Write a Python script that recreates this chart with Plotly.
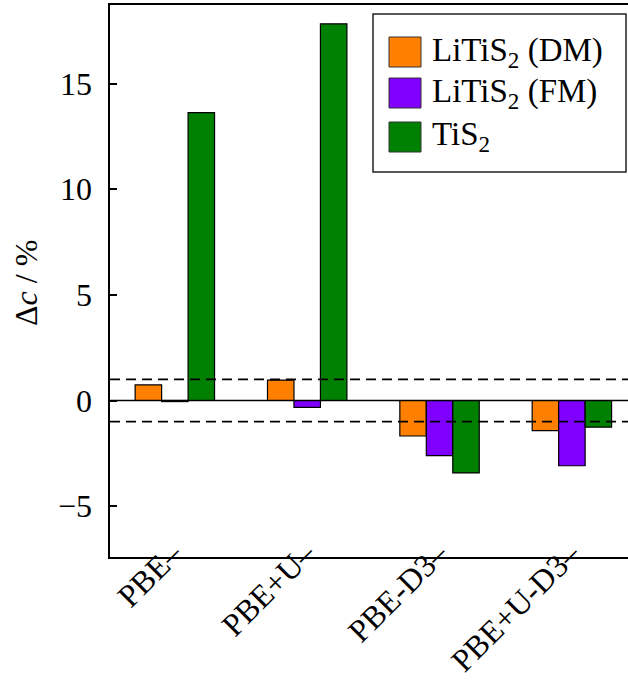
import plotly.graph_objects as go

# Change of the c lattice parameter for each functional
methods = ["PBE", "PBE+U", "PBE-D3", "PBE+U-D3"]
series_names = ["LiTiS<sub>2</sub> (DM)", "LiTiS<sub>2</sub> (FM)", "TiS<sub>2</sub>"]
litis2_dm = [0.74, 0.97, -1.68, -1.43]
litis2_fm = [-0.05, -0.32, -2.61, -3.09]
tis2 = [13.63, 17.84, -3.43, -1.26]
y_ticks = [-5, 0, 5, 10, 15]
tolerance = 1.0

colors = ["#ff8000", "#8000ff", "#008000"]
values = [litis2_dm, litis2_fm, tis2]

W, H = 628, 691
L, R, T, B = 110, 0, 5, 134
FONT = "Liberation Serif"

fig = go.Figure()
for name, vals, col in zip(series_names, values, colors):
    fig.add_trace(go.Bar(
        x=list(range(len(methods))), y=vals, name=name,
        marker=dict(color=col, line=dict(color="black", width=1.2)),
        showlegend=False,
    ))

# zero line and ±tolerance band
fig.add_hline(y=0, line=dict(color="black", width=1.6))
for v in (tolerance, -tolerance):
    fig.add_hline(y=v, line=dict(color="black", width=1.8, dash="10px,6px"))

# rotated category labels, ending at each group's centre
for i, m in enumerate(methods):
    fig.add_annotation(xref="x", yref="paper", x=i, y=0,
                       text=m + "–", textangle=-45, showarrow=False,
                       xanchor="right", yanchor="top", xshift=18, yshift=25,
                       font=dict(family=FONT, size=32, color="black"))

# y tick labels, set a little further from the spine
for v in y_ticks:
    label = ("\u2212" + str(-v)) if v < 0 else str(v)
    fig.add_annotation(xref="paper", yref="y", x=0, y=v, text=label,
                       showarrow=False, xanchor="right", yanchor="middle",
                       xshift=-16, font=dict(family=FONT, size=32, color="black"))

# pixel -> paper helpers for fixed decorations
pw, ph = W - L - R, H - T - B
def px(xp):
    return (xp - L) / pw
def py(yp):
    return (H - B - yp) / ph

# y-axis title
fig.add_annotation(xref="paper", yref="paper", x=px(26), y=py(283),
                   text="Δ<i>c</i> / %", textangle=-90, showarrow=False,
                   xanchor="center", yanchor="middle",
                   font=dict(family=FONT, size=32, color="black"))

# hand-built legend box with large square swatches
fig.add_shape(type="rect", xref="paper", yref="paper",
              x0=px(373), x1=px(626), y0=py(172), y1=py(14),
              line=dict(color="#222222", width=1.5), fillcolor="white", layer="above")
rows = [(37, 67), (78, 108), (122, 152)]
for (y0, y1), name, col in zip(rows, series_names, colors):
    fig.add_shape(type="rect", xref="paper", yref="paper",
                  x0=px(389), x1=px(421), y0=py(y1), y1=py(y0),
                  line=dict(color="#333333", width=1), fillcolor=col, layer="above")
    fig.add_annotation(xref="paper", yref="paper", x=px(430), y=py((y0 + y1) / 2),
                       text=name, showarrow=False, xanchor="left", yanchor="middle",
                       font=dict(family=FONT, size=33, color="black"))

fig.update_layout(
    width=W, height=H,
    margin=dict(l=L, r=R, t=T, b=B, pad=0, autoexpand=False),
    plot_bgcolor="white", paper_bgcolor="white",
    barmode="group", bargap=0.4, bargroupgap=0,
    font=dict(family=FONT, size=32, color="black"),
)
fig.update_xaxes(
    range=[-0.49, 3.424], automargin=False,
    tickmode="array", tickvals=list(range(len(methods))),
    showticklabels=False, ticks="",
    showline=True, linecolor="black", linewidth=2, mirror=True,
    showgrid=False, zeroline=False,
)
fig.update_yaxes(
    range=[-7.41, 18.73], automargin=False,
    tickmode="array", tickvals=y_ticks,
    ticks="inside", ticklen=7, tickwidth=1.5, tickcolor="black",
    showticklabels=False,
    showline=True, linecolor="black", linewidth=2, mirror=False,
    showgrid=False, zeroline=False,
)

fig.write_html("out.html")
